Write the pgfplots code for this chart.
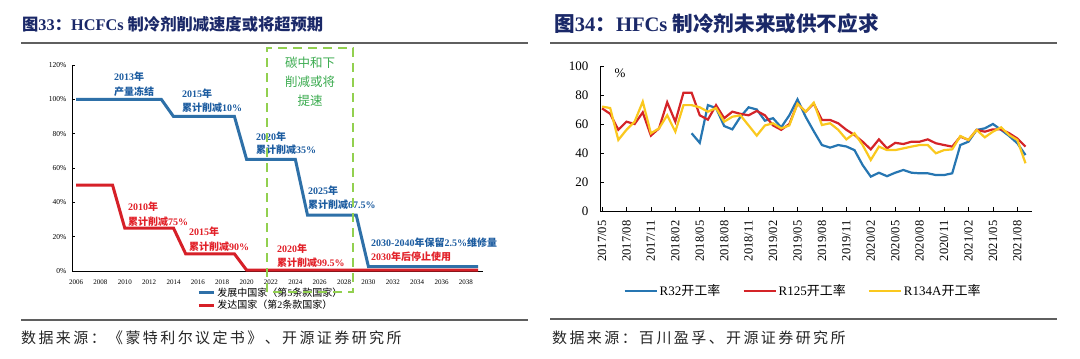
\documentclass[border=0pt]{standalone}
\usepackage{fontspec}
\setmainfont{Liberation Serif}
\newfontfamily\cjk{Noto Sans CJK SC}
\newfontfamily\cjksp{Noto Sans CJK SC}[LetterSpace=16]
\usepackage{pgfplots}
\pgfplotsset{compat=1.18}
\usepackage{pgfplotstable}
\newcommand\fs[1]{\fontsize{#1}{#1}\selectfont}
\definecolor{lblue}{RGB}{46,112,168}
\definecolor{lred}{RGB}{214,32,40}
\definecolor{annblue}{RGB}{28,92,160}
\definecolor{annred}{RGB}{226,32,40}
\definecolor{greend}{RGB}{146,208,80}
\definecolor{greent}{RGB}{60,172,80}
\definecolor{titlec}{RGB}{26,40,104}
\definecolor{rulec}{RGB}{95,95,95}
\definecolor{rblue}{RGB}{38,118,178}
\definecolor{rred}{RGB}{212,36,40}
\definecolor{ryellow}{RGB}{250,200,30}

\pgfplotstableread{
i b r y
0 nan 70.8 72
1 nan 67 71
2 nan 56 49
3 nan 61.6 56
4 nan 60 61.6
5 nan 68 75.4
6 nan 52 53.6
7 nan 57 57
8 nan 75 66
9 nan 61.6 54.7
10 nan 81.6 73
11 53.6 81.6 73
12 47 66 71.5
13 73 63 68.5
14 71 73 71
15 58.6 64 61.6
16 56.3 68.5 65
17 65 67 66
18 71.5 66 59
19 70 69 52
20 62.3 66 59
21 64 59 60.5
22 57.7 56 57
23 66 60 59
24 77 74 74
25 65 68.5 68.5
26 55 74 74.7
27 45.5 62.8 59.3
28 43.7 62.8 60.5
29 45.5 60.5 56
30 44.5 56 49.4
31 42 52.4 53.6
32 31.7 47.8 45.5
33 23.7 42.5 35.2
34 26.4 49.4 44.4
35 24 43.2 42
36 26.4 47 42
37 28.3 46.2 43.2
38 26.4 47.8 44.4
39 26 47.8 45.5
40 26 49.4 45.5
41 24.8 46.7 39.8
42 24.8 45.5 42
43 26 44.4 42.5
44 45.5 51.3 51.7
45 47.8 49 49
46 55.9 55.9 55.9
47 57 54.7 50.8
48 60 56.3 54.7
49 56 56.3 57.7
50 51.7 53.6 52.4
51 46.7 50 49
52 38.6 44.4 32.9
}\rdata

\begin{document}
\begin{tikzpicture}[x=1pt,y=1pt]
\fill[white] (0pt,0pt) rectangle (1080pt,359pt);
\path[use as bounding box] (0pt,0pt) rectangle (1080pt,359pt);

% ---------- left panel ----------
\node[anchor=west, inner sep=0, font=\fs{16.3}\bfseries, text=titlec] at (22pt,335pt)
  {{\cjk 图}33{\cjk ：}HCFCs {\cjk 制冷剂削减速度或将超预期}};
\draw[rulec, line width=1.6pt] (21pt,316pt) -- (528pt,316pt);
\draw[rulec, line width=1.6pt] (21pt,39pt) -- (528pt,39pt);
\node[anchor=west, inner sep=0, font=\fs{15}\cjksp, text=black!85] at (21pt,21pt)
  {数据来源：《蒙特利尔议定书》、开源证券研究所};

\begin{axis}[at={(72pt,88pt)}, anchor=south west, width=411pt, height=206pt, scale only axis,
  xmin=2005.67, xmax=2039.4, ymin=0, ymax=120,
  axis lines*=left, axis line style={black, line width=0.7pt},
  xtick={2006,2008,...,2038}, ytick={0,20,...,120},
  xtick style={draw=none}, ytick style={black, line width=0.6pt},
  tick align=inside, major tick length=3pt,
  /pgf/number format/assume math mode=true, /pgf/number format/1000 sep={},
  x tick label style={font=\fs{7}, yshift=-5pt},
  yticklabel={\pgfmathprintnumber{\tick}\%},
  y tick label style={font=\fs{7.5}, xshift=-2pt},
  clip=false,
  legend style={at={(0.484,-0.136)}, anchor=center, draw=none, fill=none,
    font=\fs{10}, row sep=-1.5pt, cells={anchor=west}, inner sep=0pt},
  legend image code/.code={\draw[#1, line width=3pt] (0pt,0pt) -- (15pt,0pt);},
]
\addplot[lblue, line width=3pt] coordinates {(2006,100) (2013,100) (2014,90) (2019,90) (2020,65) (2024,65) (2025,32.5) (2029,32.5) (2030,2.5) (2039,2.5)};
\addlegendentry{{\cjk 发展中国家（第}5{\cjk 条款国家）}}
\addplot[lred, line width=3pt] coordinates {(2006,50) (2009,50) (2010,25) (2014,25) (2015,10) (2019,10) (2020,0.5) (2039,0.5)};
\addlegendentry{{\cjk 发达国家（第}2{\cjk 条款国家）}}
\end{axis}

% annotations
\begin{scope}[every node/.style={anchor=west, inner sep=0, font=\fs{10}\bfseries}]
\node[text=annblue] at (114pt,282pt) {2013{\cjk 年}};
\node[text=annblue] at (114pt,267pt) {\cjk 产量冻结};
\node[text=annblue] at (182pt,265pt) {2015{\cjk 年}};
\node[text=annblue] at (182pt,251pt) {{\cjk 累计削减}10\%};
\node[text=annblue] at (256pt,222pt) {2020{\cjk 年}};
\node[text=annblue] at (256pt,209pt) {{\cjk 累计削减}35\%};
\node[text=annblue] at (308pt,168pt) {2025{\cjk 年}};
\node[text=annblue] at (308pt,154pt) {{\cjk 累计削减}67.5\%};
\node[text=annblue] at (371pt,116pt) {2030-2040{\cjk 年保留}2.5\%{\cjk 维修量}};
\node[text=annred] at (128pt,152pt) {2010{\cjk 年}};
\node[text=annred] at (128pt,137pt) {{\cjk 累计削减}75\%};
\node[text=annred] at (189pt,127pt) {2015{\cjk 年}};
\node[text=annred] at (189pt,112pt) {{\cjk 累计削减}90\%};
\node[text=annred] at (277pt,110pt) {2020{\cjk 年}};
\node[text=annred] at (277pt,96pt) {{\cjk 累计削减}99.5\%};
\node[text=annred] at (371pt,102pt) {2030{\cjk 年后停止使用}};
\end{scope}
\node[align=center, inner sep=0, font=\fontsize{12.5}{19}\selectfont\cjk, text=greent] at (310pt,277pt) {碳中和下\\削减或将\\提速};
\draw[greend, line width=2.5pt, dash pattern=on 9pt off 6pt] (267pt,67pt) rectangle (353pt,311pt);

% ---------- right panel ----------
\node[anchor=west, inner sep=0, font=\fs{20.6}\bfseries, text=titlec] at (554pt,335pt)
  {{\cjk 图}34{\cjk ：}HFCs {\cjk 制冷剂未来或供不应求}};
\draw[rulec, line width=1.6pt] (550pt,316pt) -- (1057pt,316pt);
\draw[rulec, line width=1.6pt] (550pt,40pt) -- (1057pt,40pt);
\node[anchor=west, inner sep=0, font=\fs{15}\cjksp, text=black!85] at (552pt,21.5pt)
  {数据来源：百川盈孚、开源证券研究所};

\begin{axis}[at={(600pt,148pt)}, anchor=south west, width=432pt, height=145pt, scale only axis,
  xmin=-0.25, xmax=52.8, ymin=0, ymax=100,
  axis lines*=left, axis line style={black, line width=0.8pt},
  xtick={0,3,...,51},
  xticklabels={2017/05,2017/08,2017/11,2018/02,2018/05,2018/08,2018/11,2019/02,2019/05,2019/08,2019/11,2020/02,2020/05,2020/08,2020/11,2021/02,2021/05,2021/08},
  ytick={0,20,...,100},
  tick align=inside, major tick length=4pt, tick style={black, line width=0.6pt},
  /pgf/number format/assume math mode=true,
  x tick label style={yshift=-6pt, rotate=90, anchor=east, font=\fs{12.5}},
  y tick label style={font=\fs{13}, xshift=-8pt},
  legend style={at={(0.47,-0.552)}, anchor=center, legend columns=3, draw=none, fill=none,
    font=\fs{13}, /tikz/every even column/.append style={column sep=20pt}},
  legend image code/.code={\draw[#1] (0pt,0pt) -- (32pt,0pt);},
]
\addplot[rblue, line width=2.2pt] table[x=i, y=b] {\rdata};
\addlegendentry{R32{\cjk 开工率}}
\addplot[rred, line width=2.2pt] table[x=i, y=r] {\rdata};
\addlegendentry{R125{\cjk 开工率}}
\addplot[ryellow, line width=2.2pt] table[x=i, y=y] {\rdata};
\addlegendentry{R134A{\cjk 开工率}}
\end{axis}
\node[font=\fs{13}, inner sep=0] at (620pt,286pt) {\%};
\end{tikzpicture}
\end{document}
